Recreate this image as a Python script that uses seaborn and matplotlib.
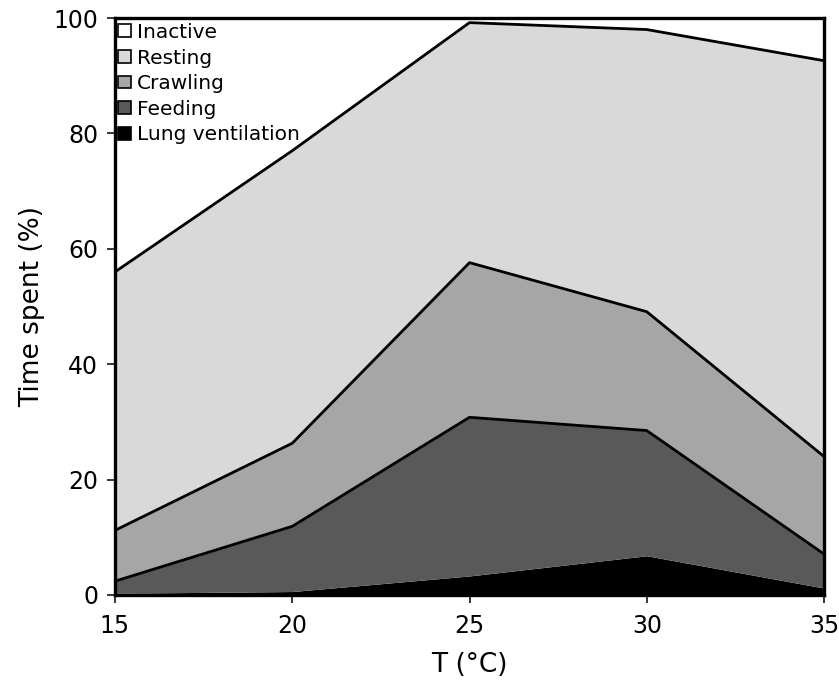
import numpy as np
import pandas as pd
import matplotlib
matplotlib.use("Agg")
import matplotlib.pyplot as plt
import seaborn as sns
from matplotlib.patches import Patch

temps = [15, 20, 25, 30, 35]
lung_ventilation = [0.3, 0.6, 3.3, 6.8, 1.2]
feeding = [2.1, 11.3, 27.5, 21.7, 5.9]
crawling = [8.8, 14.4, 26.8, 20.6, 16.9]
resting = [44.8, 50.7, 41.6, 48.9, 68.6]
inactive = [44.0, 23.0, 0.8, 2.0, 7.4]

series_names = ["Lung ventilation", "Feeding", "Crawling", "Resting", "Inactive"]
series_vals = [lung_ventilation, feeding, crawling, resting, inactive]
colors = ["#000000", "#595959", "#a6a6a6", "#d9d9d9", "#ffffff"]
outlined = [False, True, True, True, False]

sns.set_style("ticks")
plt.rcParams["font.family"] = ["DejaVu Sans"]
plt.rcParams["text.color"] = "black"
plt.rcParams["axes.labelcolor"] = "black"

fig = plt.figure(figsize=(8.39, 6.93), dpi=100)
ax = fig.add_axes([115 / 839, 98 / 693, 709 / 839, 577 / 693])

df = pd.DataFrame({"T": temps})
bottom = np.zeros(len(temps))
for name, vals, col, ol in zip(series_names, series_vals, colors, outlined):
    top = bottom + np.array(vals)
    ax.fill_between(temps, bottom, top, color=col, linewidth=0, zorder=1)
    if ol:
        df["top"] = top
        sns.lineplot(data=df, x="T", y="top", ax=ax, color="black", linewidth=2,
                     zorder=3, legend=False)
    bottom = top

ax.set_xlim(15, 35)
ax.set_ylim(0, 100)
ax.set_xticks(temps)
ax.set_yticks([0, 20, 40, 60, 80, 100])
ax.tick_params(axis="both", direction="out", length=6, width=1.1, labelsize=17,
               colors="black", labelcolor="black")
ax.tick_params(axis="x", pad=8)
ax.tick_params(axis="y", pad=6)
for s in ax.spines.values():
    s.set_linewidth(2.4)
    s.set_color("black")
    s.set_visible(True)
    s.set_zorder(5)

ax.set_xlabel("T (°C)", fontsize=19, labelpad=10)
ax.set_ylabel("Time spent (%)", fontsize=19, labelpad=6)

handles = [Patch(facecolor=c, edgecolor="black", linewidth=1.2, label=n)
           for n, c in zip(series_names[::-1], colors[::-1])]
leg = ax.legend(handles=handles, loc="upper left", frameon=False, fontsize=14.5,
                handlelength=0.6, handleheight=0.6, handletextpad=0.3,
                labelspacing=0.33, borderaxespad=0.0, borderpad=0.1,
                bbox_to_anchor=(0.002, 0.995))
for t in leg.get_texts():
    t.set_color("black")
leg.set_zorder(6)

fig.savefig("out.png", dpi=100, facecolor="white")
